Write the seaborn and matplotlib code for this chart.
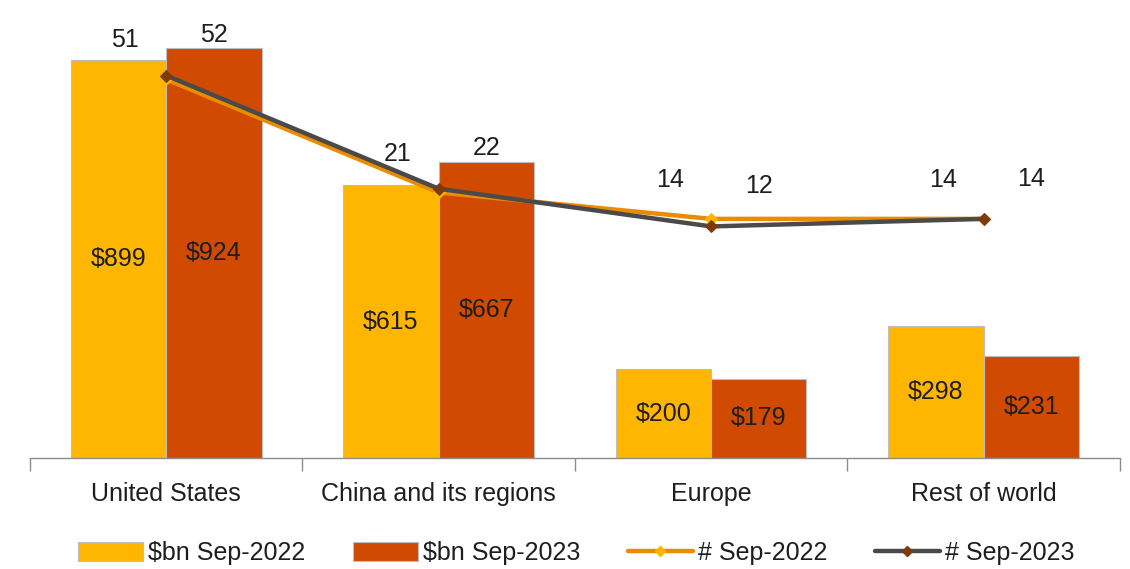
import matplotlib
matplotlib.use("Agg")
import matplotlib.pyplot as plt
import seaborn as sns
import pandas as pd
from matplotlib.patches import Patch
from matplotlib.lines import Line2D

categories = ["United States", "China and its regions", "Europe", "Rest of world"]
value_2022 = [899, 615, 200, 298]
value_2023 = [924, 667, 179, 231]
count_2022 = [51, 21, 14, 14]
count_2023 = [52, 22, 12, 14]
series_names = ["$bn Sep-2022", "$bn Sep-2023", "# Sep-2022", "# Sep-2023"]

YELLOW = "#FFB600"
ORANGE = "#D04A02"
LINE22 = "#EB8C00"
LINE23 = "#4A4A4A"
MARK23 = "#7D3A0A"
TXT = "#1E1E1E"
FS = 18

sns.set_theme(style="white")
plt.rcParams["font.family"] = ["Liberation Sans", "DejaVu Sans"]

df = pd.DataFrame({
    "region": categories * 2,
    "value": value_2022 + value_2023,
    "period": [series_names[0]] * 4 + [series_names[1]] * 4,
})

fig = plt.figure(figsize=(11.3, 5.69), dpi=100)
ax = fig.add_axes([0.0265, 0.195, 0.9645, 0.779])

sns.barplot(data=df, x="region", y="value", hue="period", order=categories,
            hue_order=series_names[:2], palette=[YELLOW, ORANGE], width=0.7,
            edgecolor="#BDBDBD", linewidth=0.8, ax=ax, legend=False, saturation=1)

for cont in ax.containers:
    labels = ["$%d" % v for v in cont.datavalues]
    ax.bar_label(cont, labels=labels, label_type="center", fontsize=FS, color=TXT)

ax.set_ylim(0, 1000)
ax.set_xlim(-0.5, 3.5)
ax.set_xlabel("")
ax.set_ylabel("")
ax.set_yticks([])
for s in ["top", "right", "left"]:
    ax.spines[s].set_visible(False)
ax.spines["bottom"].set_color("#8C8C8C")
ax.spines["bottom"].set_linewidth(1.0)
ax.set_xticks([i for i in range(len(categories))])
ax.set_xticklabels(categories, fontsize=FS, color=TXT)
ax.set_xticks([i - 0.5 for i in range(len(categories) + 1)], minor=True)
ax.tick_params(axis="x", which="major", length=0, pad=17)
ax.tick_params(axis="x", which="minor", length=9, color="#8C8C8C", width=1.0, bottom=True)

ax2 = ax.twinx()
xs = list(range(len(categories)))
sns.lineplot(x=xs, y=count_2022, ax=ax2, color=LINE22, linewidth=3.2, marker="D",
             markersize=6, markerfacecolor=YELLOW, markeredgecolor=YELLOW, sort=False, zorder=3)
sns.lineplot(x=xs, y=count_2023, ax=ax2, color=LINE23, linewidth=3.2, marker="D",
             markersize=6, markerfacecolor=MARK23, markeredgecolor=MARK23, sort=False, zorder=4)
ax2.set_ylim(-49.4, 68.1)
ax2.set_xlim(-0.5, 3.5)
ax2.set_yticks([])
ax2.set_ylabel("")
for s in ["top", "right", "left", "bottom"]:
    ax2.spines[s].set_visible(False)

for i in xs:
    ax2.annotate(str(count_2022[i]), (i - 0.15, count_2022[i]), xytext=(0, 28),
                 textcoords="offset points", ha="center", va="center", fontsize=FS, color=TXT)
    ax2.annotate(str(count_2023[i]), (i + 0.175, count_2023[i]), xytext=(0, 29),
                 textcoords="offset points", ha="center", va="center", fontsize=FS, color=TXT)

handles = [
    Patch(facecolor=YELLOW, edgecolor="#BDBDBD", linewidth=0.8),
    Patch(facecolor=ORANGE, edgecolor="#BDBDBD", linewidth=0.8),
    Line2D([], [], color=LINE22, linewidth=3.2, marker="D", markersize=5,
           markerfacecolor=YELLOW, markeredgecolor=YELLOW),
    Line2D([], [], color=LINE23, linewidth=3.2, marker="D", markersize=5,
           markerfacecolor=MARK23, markeredgecolor=MARK23),
]
fig.legend(handles, series_names, loc="center", bbox_to_anchor=(0.51, 0.028), ncol=4,
           frameon=False, fontsize=FS, handlelength=2.6, handleheight=0.8,
           handletextpad=0.2, columnspacing=1.9, labelcolor=TXT)

fig.savefig("out.png", dpi=100)
